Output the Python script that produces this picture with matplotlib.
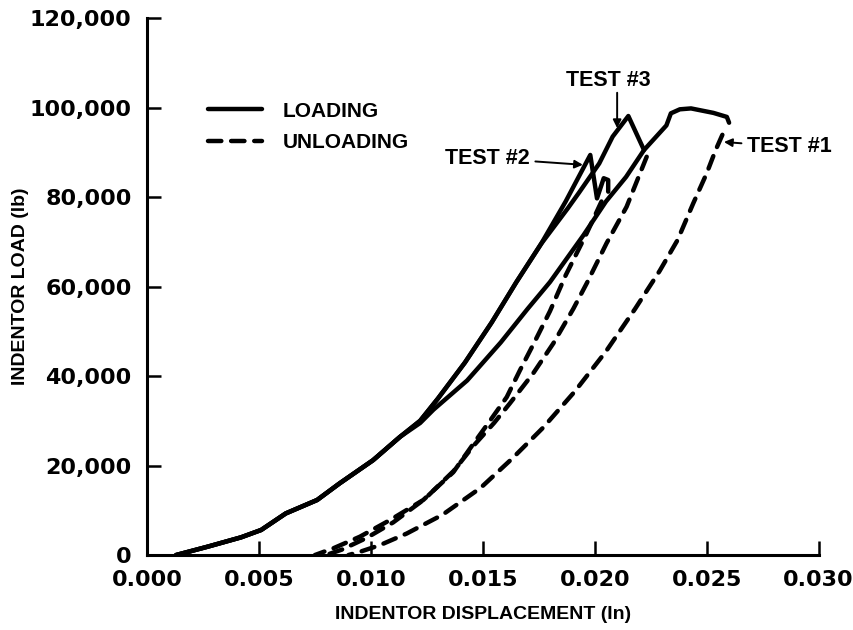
import matplotlib
matplotlib.use("Agg")
import matplotlib.pyplot as plt
import numpy as np

# shared part of the loading curves (all three tests)
trunk_x = [0.0013, 0.0027, 0.0042, 0.0051, 0.0062, 0.0076, 0.0086, 0.0101, 0.0113]
trunk_y = [0, 1850, 3950, 5600, 9300, 12300, 16000, 21200, 26400]

# test 1 loading, after the trunk
t1_load_x = [0.0122, 0.0128, 0.0143, 0.0158, 0.0170, 0.0180, 0.0195, 0.0205,
             0.0214, 0.0222, 0.0232, 0.0234, 0.0238, 0.0243, 0.0253, 0.0259, 0.0260]
t1_load_y = [29500, 32500, 39000, 47500, 55000, 61000, 71500, 79000,
             84500, 90500, 96000, 98700, 99600, 99800, 98800, 97900, 96600]

# tests 2 and 3 run together for a while
band_x = [0.0122, 0.0130, 0.0142, 0.0154, 0.0165, 0.0176]
band_y = [30000, 35000, 43000, 52000, 61000, 69500]

t2_load_x = [0.0187, 0.0198, 0.0201, 0.0204, 0.0206, 0.0206]
t2_load_y = [79000, 89400, 79700, 84200, 83800, 81200]

t3_load_x = [0.0188, 0.0193, 0.0202, 0.0208, 0.0215, 0.0222]
t3_load_y = [77500, 81000, 87500, 93500, 98100, 90500]

# unloading
t1_unl_x = [0.0257, 0.0254, 0.0250, 0.0244, 0.0237, 0.0229, 0.0218, 0.0205, 0.0191,
            0.0177, 0.0163, 0.0149, 0.0132, 0.0116, 0.0104, 0.0095, 0.0090]
t1_unl_y = [93900, 90500, 85300, 78600, 70400, 63500, 55000, 45500, 36500,
            28500, 21500, 15000, 9000, 4800, 2200, 700, 0]

t2_unl_x = [0.0203, 0.01964, 0.0187, 0.0180, 0.0173, 0.01666, 0.01607, 0.01532,
            0.01457, 0.01368, 0.01234, 0.01085, 0.00951, 0.00832, 0.0075]
t2_unl_y = [79000, 71900, 62500, 54500, 47500, 41300, 35300, 30000,
            24800, 18500, 12300, 7800, 4100, 1500, 0]

t3_unl_x = [0.02232, 0.02142, 0.02053, 0.01964, 0.01904, 0.01815, 0.01725, 0.01621,
            0.0155, 0.0146, 0.0137, 0.0124, 0.0110, 0.0098, 0.0087, 0.0080]
t3_unl_y = [89000, 77800, 69700, 60700, 55000, 47300, 40600, 33900,
            29500, 24500, 18800, 12500, 7300, 3800, 1200, 0]

x_ticks = [0.000, 0.005, 0.010, 0.015, 0.020, 0.025, 0.030]
x_labels = ["0.000", "0.005", "0.010", "0.015", "0.020", "0.025", "0.030"]
y_ticks = [0, 20000, 40000, 60000, 80000, 100000, 120000]
y_labels = ["0", "20,000", "40,000", "60,000", "80,000", "100,000", "120,000"]

fig = plt.figure(figsize=(8.54, 6.3), dpi=100)
ax = fig.add_axes([0.1721, 0.119, 0.7865, 0.8524])

lw = 3.2
dash = (3.0, 2.2)
solid = dict(color="black", lw=lw, solid_capstyle="round", solid_joinstyle="round")

load1 = ax.plot(trunk_x + t1_load_x, trunk_y + t1_load_y, label="LOADING", **solid)[0]
ax.plot(trunk_x + band_x + t2_load_x, trunk_y + band_y + t2_load_y, **solid)
ax.plot(trunk_x + band_x + t3_load_x, trunk_y + band_y + t3_load_y, **solid)

unl1 = ax.plot(t1_unl_x, t1_unl_y, color="black", lw=lw, dashes=dash,
               dash_capstyle="round", label="UNLOADING")[0]
ax.plot(t2_unl_x, t2_unl_y, color="black", lw=lw, dashes=dash, dash_capstyle="round")
ax.plot(t3_unl_x, t3_unl_y, color="black", lw=lw, dashes=dash, dash_capstyle="round")

ax.set_xlim(0, 0.030)
ax.set_ylim(0, 120000)
ax.set_xticks(x_ticks)
ax.set_xticklabels(x_labels)
ax.set_yticks(y_ticks)
ax.set_yticklabels(y_labels)

for s in ["top", "right"]:
    ax.spines[s].set_visible(False)
for s in ["left", "bottom"]:
    ax.spines[s].set_linewidth(2.2)

ax.tick_params(direction="in", length=10, width=1.8, pad=11)
for lab in ax.get_xticklabels() + ax.get_yticklabels():
    lab.set_fontfamily("DejaVu Sans")
    lab.set_fontweight("bold")
    lab.set_fontsize(16)

ax.set_xlabel("INDENTOR DISPLACEMENT (In)", fontfamily="Liberation Sans",
              fontweight="bold", fontsize=14)
ax.set_ylabel("INDENTOR LOAD (lb)", fontfamily="Liberation Sans",
              fontweight="bold", fontsize=14)
ax.xaxis.set_label_coords(0.5, -0.094)
ax.yaxis.set_label_coords(-0.176, 0.5)

leg = ax.legend(handles=[load1, unl1], loc="upper left", bbox_to_anchor=(0.078, 0.86),
                frameon=False, handlelength=2.6, handletextpad=1.0, labelspacing=0.62,
                borderaxespad=0, prop={"family": "Liberation Sans", "weight": "bold", "size": 15})

arrow = dict(arrowstyle="-|>", color="black", lw=1.4, mutation_scale=12, shrinkA=0, shrinkB=0)
txt = dict(fontfamily="Liberation Sans", fontweight="bold", fontsize=15.5)
ax.text(0.0206, 106100, "TEST #3", ha="center", va="center", **txt)
ax.annotate("", xy=(0.0210, 95400), xytext=(0.0210, 103300), arrowprops=arrow)
ax.annotate("TEST #2", xy=(0.01947, 87200), xytext=(0.0171, 88700),
            ha="right", va="center", arrowprops=dict(arrow, shrinkA=2), **txt)
ax.annotate("TEST #1", xy=(0.02577, 92300), xytext=(0.0268, 91200),
            ha="left", va="center", arrowprops=dict(arrow, shrinkA=2), **txt)

fig.savefig("out.png", dpi=100)
